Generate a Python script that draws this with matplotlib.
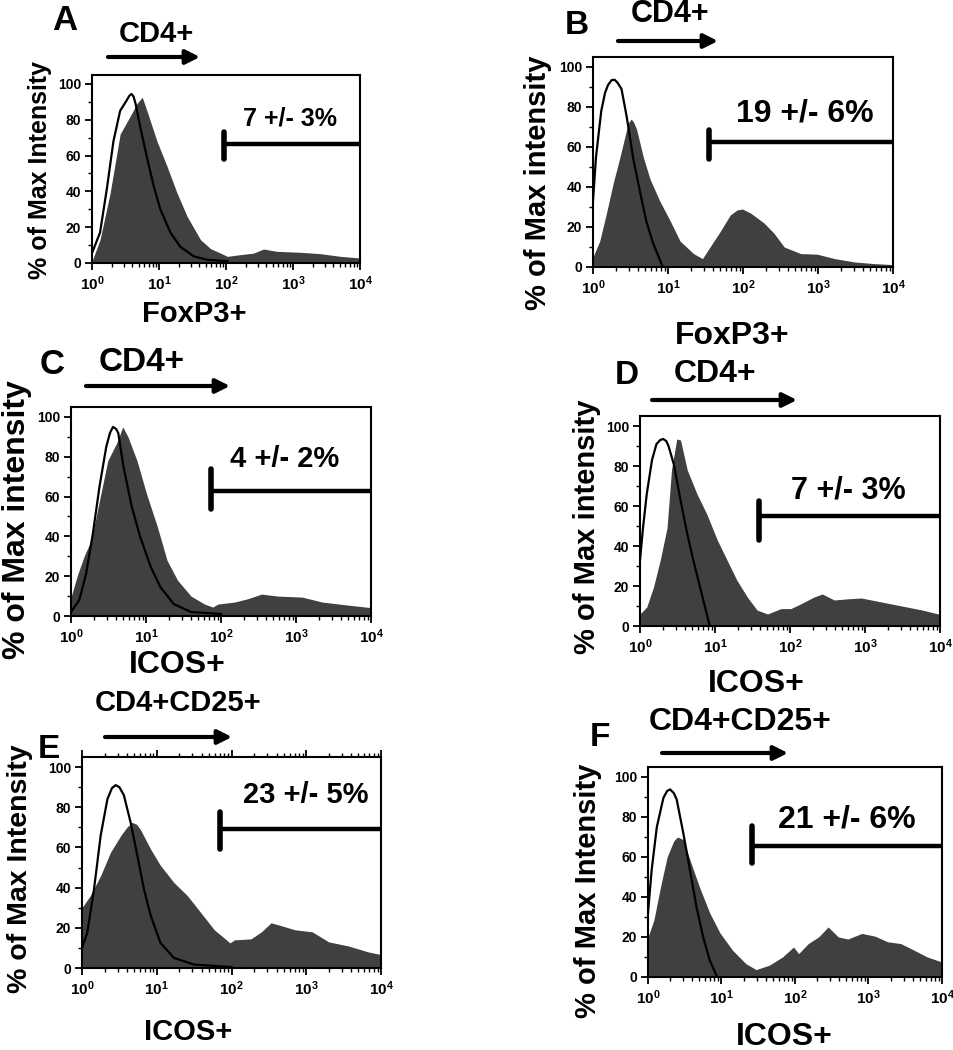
import numpy as np
import matplotlib
matplotlib.use("Agg")
import matplotlib.pyplot as plt
from matplotlib import ticker

plt.rcParams['font.family'] = ['Liberation Sans', 'DejaVu Sans']
plt.rcParams['font.weight'] = 'bold'
plt.rcParams['mathtext.fontset'] = 'custom'
plt.rcParams['mathtext.rm'] = 'Liberation Sans:bold'
plt.rcParams['mathtext.bf'] = 'Liberation Sans:bold'

# data, x given as log10 of intensity
a_fill_x = [0, 0.12, 0.27, 0.42, 0.57, 0.67, 0.75, 0.82, 0.97, 1.12, 1.27, 1.42, 1.62, 1.77, 1.92, 2.02, 2.2, 2.41, 2.56, 2.76, 3.1, 3.41, 3.71, 4.0]
a_fill_y = [1, 13, 39, 72, 82, 89, 92.6, 85, 68, 54, 39, 26, 13, 8, 5.5, 3.7, 4.6, 5.5, 7.8, 6.5, 6, 5.2, 3.7, 2.8]
a_open_x = [0, 0.12, 0.22, 0.32, 0.42, 0.52, 0.56, 0.59, 0.62, 0.65, 0.72, 0.82, 0.92, 1.02, 1.17, 1.32, 1.52, 1.72, 2.02]
a_open_y = [5.5, 17, 41, 68, 85, 91, 93.5, 94.4, 93, 89, 76, 59, 43, 30, 17, 9, 3.7, 1.8, 1]

b_fill_x = [0, 0.09, 0.18, 0.27, 0.36, 0.45, 0.48, 0.51, 0.54, 0.58, 0.67, 0.76, 0.89, 1.03, 1.16, 1.34, 1.46, 1.56, 1.7, 1.83, 1.92, 1.99, 2.1, 2.28, 2.41, 2.55, 2.77, 2.99, 3.22, 3.49, 3.75, 4.0]
b_fill_y = [5, 13, 27, 42, 55, 69, 72.5, 74, 72.5, 69, 55, 44, 33, 23, 13, 6.7, 4.2, 10, 18, 26, 28.5, 29, 27, 22, 17, 10, 6.7, 6.4, 4.2, 2.5, 1.7, 1.2]
b_open_x = [0, 0.04, 0.11, 0.16, 0.2, 0.25, 0.29, 0.33, 0.38, 0.45, 0.54, 0.63, 0.71, 0.8, 0.93]
b_open_y = [33, 55, 78, 87, 91, 93.5, 93.6, 92, 89, 75, 53.5, 37, 23, 12, 0]

c_fill_x = [0, 0.09, 0.18, 0.27, 0.38, 0.49, 0.61, 0.69, 0.76, 0.88, 1.01, 1.15, 1.28, 1.42, 1.6, 1.78, 1.89, 1.96, 2.18, 2.36, 2.54, 2.76, 3.08, 3.35, 3.71, 4.0]
c_fill_y = [9.5, 21, 30.5, 38, 58, 78, 87, 95, 90, 78, 61, 45, 28, 18, 10, 6, 4.5, 6, 7, 8.7, 11, 10, 9.5, 7, 5.4, 4.2]
c_open_x = [0, 0.11, 0.2, 0.29, 0.38, 0.47, 0.52, 0.56, 0.6, 0.63, 0.7, 0.81, 0.92, 1.06, 1.19, 1.37, 1.6, 2.0]
c_open_y = [2, 8, 21, 41, 65, 85, 92, 95, 94, 92, 75, 55, 40, 25, 14.6, 6, 2, 1]

d_fill_x = [0, 0.09, 0.18, 0.27, 0.36, 0.42, 0.49, 0.54, 0.63, 0.76, 0.89, 1.03, 1.16, 1.29, 1.43, 1.56, 1.7, 1.88, 2.01, 2.14, 2.32, 2.43, 2.59, 2.77, 2.95, 3.22, 3.49, 3.76, 4.0]
d_fill_y = [6, 9.5, 19.5, 33, 49, 78, 93.5, 93, 78, 66, 56, 43, 33, 23, 14.5, 8, 6, 8.7, 8.7, 11, 14.5, 16, 13, 13.6, 14, 12, 10, 8, 5.8]
d_open_x = [0, 0.04, 0.09, 0.16, 0.22, 0.27, 0.31, 0.35, 0.38, 0.45, 0.54, 0.63, 0.71, 0.8, 0.93]
d_open_y = [33, 49, 66, 83, 91, 93, 93.5, 92.5, 90, 81, 63, 46, 33, 19.5, 0]

e_fill_x = [0, 0.11, 0.25, 0.38, 0.52, 0.6, 0.67, 0.73, 0.78, 0.92, 1.05, 1.23, 1.41, 1.59, 1.77, 1.98, 2.04, 2.26, 2.4, 2.53, 2.67, 2.85, 3.08, 3.3, 3.56, 3.83, 4.0]
e_fill_y = [30, 36, 46, 57.5, 66, 70, 72.5, 71.5, 69, 59, 51, 42.5, 36, 27.5, 19, 12.5, 14, 14.5, 18, 22.5, 21, 19, 18, 13, 11, 8, 6.7]
e_open_x = [0, 0.07, 0.16, 0.25, 0.34, 0.4, 0.45, 0.5, 0.56, 0.65, 0.74, 0.83, 0.92, 1.05, 1.23, 1.5, 2.0]
e_open_y = [10, 17.5, 39, 66, 84, 89.5, 91, 90, 86, 72.5, 56, 39, 26, 12.5, 5, 1.7, 0.5]

f_fill_x = [0, 0.08, 0.17, 0.26, 0.35, 0.4, 0.48, 0.57, 0.7, 0.84, 0.98, 1.15, 1.33, 1.47, 1.65, 1.83, 1.98, 2.05, 2.18, 2.32, 2.45, 2.59, 2.72, 2.91, 3.09, 3.26, 3.44, 3.62, 3.8, 4.0]
f_fill_y = [20, 28.5, 45, 60, 68, 70, 68.7, 58.6, 45, 32, 22, 13.4, 6.7, 3.7, 5.9, 10, 15, 11.7, 16.7, 20, 25, 20, 19, 21.8, 20.4, 17.6, 16.7, 13.4, 10, 7.5]
f_open_x = [0, 0.05, 0.12, 0.21, 0.26, 0.3, 0.35, 0.39, 0.48, 0.57, 0.66, 0.75, 0.84, 0.94]
f_open_y = [32, 53.6, 75, 89.6, 93, 93.8, 92, 88.8, 72, 53.6, 35, 20, 8.4, 0]

# gate: start (log10), line level, bar bottom, bar top
gates = {
    'A': (1.97, 66.7, 58, 73),
    'B': (1.55, 62.7, 54, 68.5),
    'C': (1.87, 63, 54, 74),
    'D': (1.58, 55, 42.8, 62.7),
    'E': (1.85, 69, 59, 77.5),
    'F': (1.41, 65.3, 57, 75.4),
}
gate_labels = {'A': '7 +/- 3%', 'B': '19 +/- 6%', 'C': '4 +/- 2%',
               'D': '7 +/- 3%', 'E': '23 +/- 5%', 'F': '21 +/- 6%'}
gate_label_pos = {'A': (2.96, 80.5), 'B': (2.83, 77), 'C': (2.85, 79),
                  'D': (2.78, 67.7), 'E': (2.99, 86), 'F': (2.7, 78.7)}

W, H = 954, 1050
fig = plt.figure(figsize=(W / 100, H / 100), dpi=100)
fig.patch.set_facecolor('white')

fill_col = '#404040'


def ftext(x, y, s, size, **kw):
    return fig.text(x / W, 1 - y / H, s, fontsize=size, fontweight='bold',
                    ha='center', va='center', **kw)


def farrow(x0, x1, y):
    fig.add_artist(matplotlib.patches.FancyArrowPatch(
        (x0 / W, 1 - y / H), (x1 / W, 1 - y / H), transform=fig.transFigure,
        arrowstyle='-|>,head_length=0.6,head_width=0.3', mutation_scale=14,
        lw=3, color='black', shrinkA=0, shrinkB=0))


def panel(box, fx, fy, ox, oy, key, top_ticks=False):
    l, r, t, b = box
    ax = fig.add_axes([l / W, 1 - b / H, (r - l) / W, (b - t) / H])
    ax.set_xscale('log')
    ax.fill_between(np.power(10.0, fx), fy, 0, color=fill_col, lw=0)
    ax.plot(np.power(10.0, ox), oy, color='black', lw=1.6)
    g = gates[key]
    ax.plot([10 ** g[0], 1e4], [g[1], g[1]], color='black', lw=3.2,
            solid_capstyle='butt', clip_on=False)
    ax.plot([10 ** g[0], 10 ** g[0]], [g[2], g[3]], color='black', lw=4,
            solid_capstyle='round', clip_on=False)
    tx, ty = gate_label_pos[key]
    fs = {'A': 18, 'B': 23, 'C': 21, 'D': 22, 'E': 21, 'F': 23}[key]
    ax.text(10 ** tx, ty, gate_labels[key], fontsize=fs, fontweight='bold',
            ha='center', va='center')
    ax.set_xlim(1, 1e4)
    ax.set_ylim(0, 105)
    ax.set_yticks([0, 20, 40, 60, 80, 100])
    ax.yaxis.set_minor_locator(ticker.MultipleLocator(10))
    ax.set_xticks([1, 10, 100, 1000, 10000])
    ax.xaxis.set_minor_locator(ticker.LogLocator(base=10, subs=np.arange(2, 10)))
    ax.xaxis.set_minor_formatter(ticker.NullFormatter())
    ax.xaxis.set_major_formatter(ticker.FuncFormatter(
        lambda v, p: r'$\mathbf{10^{%d}}$' % round(np.log10(v))))
    ax.tick_params(which='major', direction='out', length=5, width=1.3,
                   labelsize=10, top=top_ticks, pad=3)
    ax.tick_params(axis='x', which='major', labelsize=11)
    ax.tick_params(which='minor', direction='out', length=3, width=1,
                   top=top_ticks)
    for lab in ax.get_yticklabels():
        lab.set_fontweight('bold')
    for sp in ax.spines.values():
        sp.set_linewidth(1.5)
    return ax


panel((92, 360, 75, 263), a_fill_x, a_fill_y, a_open_x, a_open_y, 'A')
panel((593, 893, 57, 267), b_fill_x, b_fill_y, b_open_x, b_open_y, 'B')
panel((71, 371, 407, 616), c_fill_x, c_fill_y, c_open_x, c_open_y, 'C')
panel((640, 940, 416, 626), d_fill_x, d_fill_y, d_open_x, d_open_y, 'D')
panel((82, 381, 757, 968), e_fill_x, e_fill_y, e_open_x, e_open_y, 'E', top_ticks=True)
panel((648, 942, 767, 977), f_fill_x, f_fill_y, f_open_x, f_open_y, 'F')

# panel letters
ftext(65, 21, 'A', 25)
ftext(577, 26, 'B', 24)
ftext(52, 365, 'C', 25)
ftext(627, 376, 'D', 24)
ftext(49, 750, 'E', 24, zorder=-1)
ftext(600, 737, 'F', 24)

# gating titles and arrows
ftext(156, 34, 'CD4+', 21)
farrow(108, 200, 57)
ftext(670, 14, 'CD4+', 22)
farrow(618, 718, 41)
ftext(142, 362, 'CD4+', 24)
farrow(86, 230, 386)
ftext(715, 374, 'CD4+', 23)
farrow(652, 797, 400)
ftext(178, 703, 'CD4+CD25+', 21)
farrow(105, 232, 737)
ftext(740, 722, 'CD4+CD25+', 23)
farrow(662, 788, 753)

# x labels
ftext(194, 314, 'FoxP3+', 21)
ftext(732, 336, 'FoxP3+', 23)
ftext(177, 665, 'ICOS+', 23)
ftext(756, 684, 'ICOS+', 23)
ftext(188, 1032, 'ICOS+', 21)
ftext(784, 1037, 'ICOS+', 23)

# y labels
ftext(40, 170, '% of Max Intensity', 18, rotation=90)
ftext(538, 183, '% of Max intensity', 21, rotation=90)
ftext(17, 520, '% of Max intensity', 23, rotation=90)
ftext(587, 527, '% of Max intensity', 21, rotation=90)
ftext(20, 869, '% of Max Intensity', 20.5, rotation=90)
ftext(588, 891, '% of Max Intensity', 21, rotation=90)

fig.savefig('out.png', dpi=100, facecolor='white')
